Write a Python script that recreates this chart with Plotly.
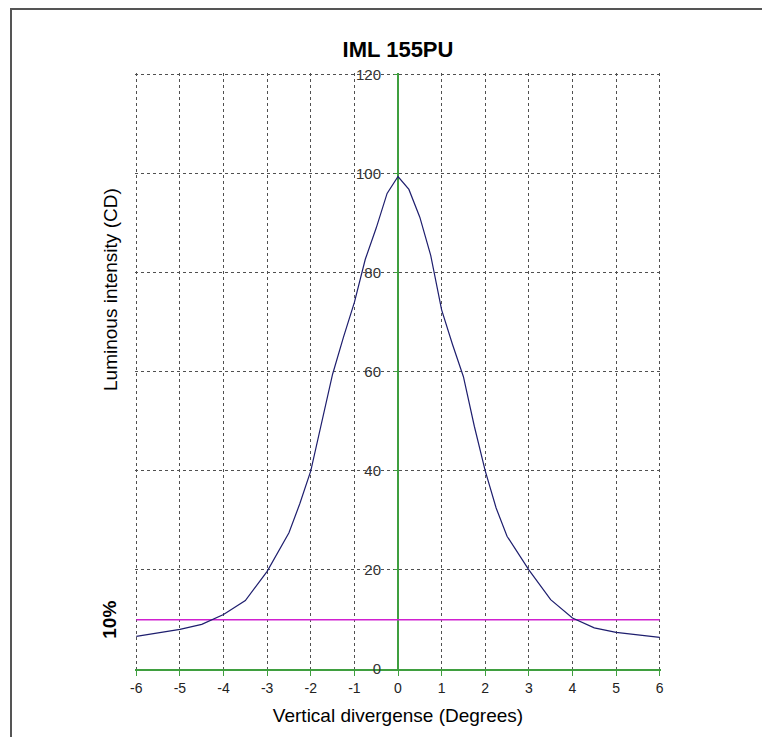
import plotly.graph_objects as go

# Data
angle_deg = [-6, -5.5, -5, -4.5, -4, -3.5, -3, -2.5, -2.25, -2, -1.75, -1.5, -1.25, -1,
             -0.75, -0.5, -0.25, 0, 0.25, 0.5, 0.75, 1, 1.25, 1.5, 1.75, 2, 2.25,
             2.5, 3, 3.5, 4, 4.5, 5, 5.5, 6]
intensity_cd = [6.6, 7.3, 8.0, 9.0, 11.0, 13.8, 19.7, 27.5, 33.4, 40.0, 50.0, 59.5, 67.0, 74.0,
                82.7, 89.0, 96.0, 99.4, 96.8, 91.2, 83.5, 72.5, 65.5, 59.0, 49.0, 40.0, 32.5,
                26.8, 20.0, 14.0, 10.3, 8.3, 7.4, 6.9, 6.4]
threshold_pct = 10
x_ticks = [-6, -5, -4, -3, -2, -1, 0, 1, 2, 3, 4, 5, 6]
y_ticks = [0, 20, 40, 60, 80, 100, 120]

threshold_val = max(intensity_cd) * threshold_pct / 100.0

GREEN = "#3f9f3f"
GRID = "#505050"
FONT = "Liberation Sans, Arial, sans-serif"

# plot-area geometry (page has an 8px body margin)
L, T, PW, PH = 127, 65, 526, 596

def px_x(px):  # reference screenshot x -> paper fraction
    return (px - 135) / PW

def px_y(py):  # reference screenshot y -> paper fraction
    return (669 - py) / PH

fig = go.Figure()
fig.add_trace(go.Scatter(
    x=[x_ticks[0], x_ticks[-1]], y=[threshold_val, threshold_val],
    mode="lines", line=dict(color="#d020d0", width=1.3),
    hoverinfo="skip", showlegend=False))
fig.add_trace(go.Scatter(
    x=angle_deg, y=intensity_cd, mode="lines",
    line=dict(color="#1e1e6e", width=1.2), showlegend=False))

fig.update_layout(
    width=770, height=737,
    margin=dict(l=L, r=770 - L - PW, t=T, b=737 - T - PH),
    paper_bgcolor="white", plot_bgcolor="white",
    font=dict(family=FONT, color="#000"),
    title=dict(text="<b>IML 155PU</b>", x=0.5, xref="paper", xanchor="center",
               y=1 - 41 / 737, yref="container", yanchor="middle",
               font=dict(size=22, color="#000", family=FONT)),
    xaxis=dict(range=[-6.03, 6.03], tickvals=x_ticks, ticktext=[str(v) for v in x_ticks],
               showgrid=True, gridcolor=GRID, griddash="dot", gridwidth=1,
               zeroline=True, zerolinecolor=GREEN, zerolinewidth=1.5,
               showline=True, linecolor=GREEN, linewidth=1.5,
               ticks="outside", tickcolor=GREEN, ticklen=5, tickwidth=1,
               tickfont=dict(size=14, color="#222"),
               title=dict(text="Vertical divergense (Degrees)", standoff=14,
                          font=dict(size=19, color="#000"))),
    yaxis=dict(range=[0, 120.3], tickvals=y_ticks, ticktext=[str(v) for v in y_ticks],
               anchor="free", position=0.5,
               showgrid=True, gridcolor=GRID, griddash="dot", gridwidth=1,
               zeroline=False, showline=False,
               ticks="outside", tickcolor=GREEN, ticklen=4, tickwidth=1,
               ticklabelstandoff=10,
               tickfont=dict(size=15, color="#333")),
    shapes=[dict(type="rect", xref="paper", yref="paper",
                 x0=px_x(11), x1=px_x(764),
                 y0=-0.2, y1=px_y(9),
                 line=dict(color="#555", width=2), fillcolor="rgba(0,0,0,0)",
                 layer="below")],
    annotations=[
        dict(text="Luminous intensity (CD)", xref="paper", yref="paper",
             x=px_x(110), y=px_y(290), textangle=-90,
             showarrow=False, xanchor="center", yanchor="middle",
             font=dict(size=19, color="#000")),
        dict(text="<b>10%</b>", xref="paper", yref="y",
             x=px_x(110), y=threshold_val, textangle=-90,
             showarrow=False, xanchor="center", yanchor="middle",
             font=dict(size=19, color="#000")),
    ],
)

fig.write_html("out.html")
